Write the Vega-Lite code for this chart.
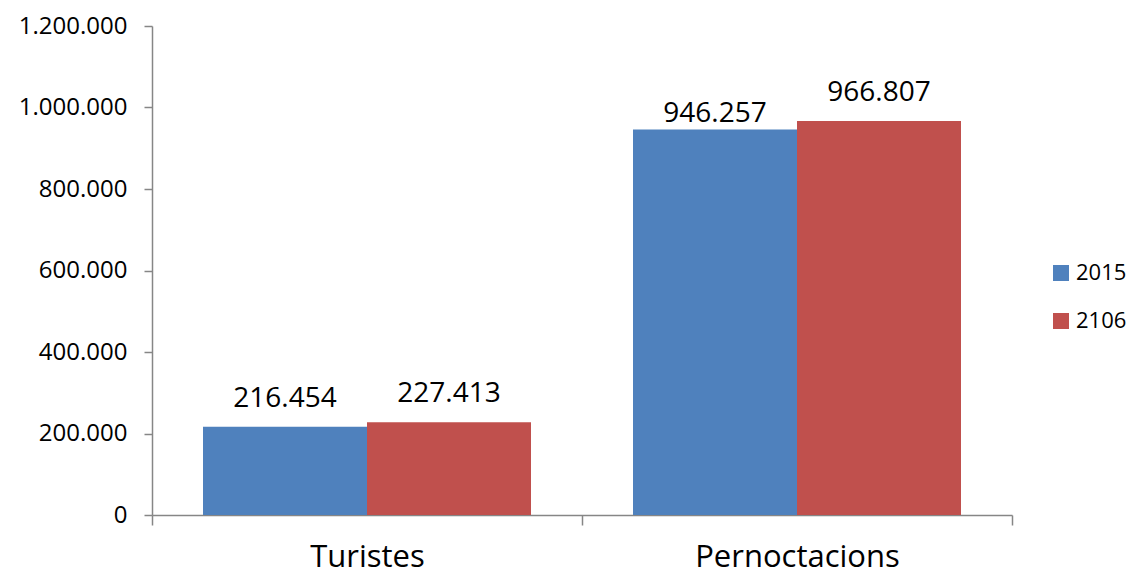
{
  "$schema": "https://vega.github.io/schema/vega-lite/v6.json",
  "autosize": "none",
  "width": 860,
  "height": 489,
  "padding": {"left": 152, "top": 26, "right": 125, "bottom": 61},
  "background": "white",
  "config": {
    "locale": {"number": {"decimal": ",", "thousands": ".", "grouping": [3], "currency": ["", " €"]}},
    "view": {"stroke": null},
    "font": "Open Sans"
  },
  "data": {
    "values": [
      {"categoria": "Turistes", "any": "2015", "valor": 216454},
      {"categoria": "Turistes", "any": "2106", "valor": 227413},
      {"categoria": "Pernoctacions", "any": "2015", "valor": 946257},
      {"categoria": "Pernoctacions", "any": "2106", "valor": 966807}
    ]
  },
  "encoding": {
    "x": {
      "field": "categoria", "type": "nominal", "sort": ["Turistes", "Pernoctacions"],
      "scale": {"paddingInner": 0, "paddingOuter": 0},
      "axis": {
        "title": null, "labelAngle": 0, "labelFontSize": 31, "labelColor": "#000000",
        "labelPadding": 17, "labelLimit": 0, "tickBand": "extent", "tickSize": 10, "tickColor": "#868686",
        "domainColor": "#868686", "domainWidth": 1.5, "tickWidth": 1.5, "grid": false, "labelFont": "Open Sans"
      }
    },
    "xOffset": {
      "field": "any", "type": "nominal",
      "scale": {"paddingInner": 0, "paddingOuter": 0.311}
    },
    "y": {
      "field": "valor", "type": "quantitative",
      "scale": {"domain": [0, 1200000], "nice": false},
      "axis": {
        "title": null, "values": [0, 200000, 400000, 600000, 800000, 1000000, 1200000],
        "labelExpr": "format(datum.value, ',.0f')", "labelFontSize": 24, "labelColor": "#000000", "labelPadding": 17,
        "tickSize": 8, "tickColor": "#868686", "domainColor": "#868686", "domainWidth": 1.5,
        "tickWidth": 1.5, "grid": false, "labelFont": "Open Sans"
      }
    }
  },
  "layer": [
    {
      "mark": {"type": "bar"},
      "encoding": {
        "color": {
          "field": "any", "type": "nominal",
          "scale": {"domain": ["2015", "2106"], "range": ["#4F81BD", "#C0504D"]},
          "legend": {
            "title": null, "orient": "none", "legendX": 898, "legendY": 236,
            "symbolType": "square", "symbolSize": 256, "symbolStrokeWidth": 0,
            "labelFontSize": 22, "labelColor": "#000000", "rowPadding": 26, "labelFont": "Open Sans"
          }
        }
      }
    },
    {
      "transform": [{"filter": "!(datum.categoria === 'Pernoctacions' && datum.any === '2015')"}],
      "mark": {"type": "text", "baseline": "alphabetic", "dy": -20, "fontSize": 28, "color": "#000000", "font": "Open Sans"},
      "encoding": {
        "text": {"field": "valor", "type": "quantitative", "format": ",.0f"}
      }
    },
    {
      "transform": [{"filter": "datum.categoria === 'Pernoctacions' && datum.any === '2015'"}],
      "mark": {"type": "text", "baseline": "alphabetic", "dy": -7, "fontSize": 28, "color": "#000000", "font": "Open Sans"},
      "encoding": {
        "text": {"field": "valor", "type": "quantitative", "format": ",.0f"}
      }
    }
  ]
}
